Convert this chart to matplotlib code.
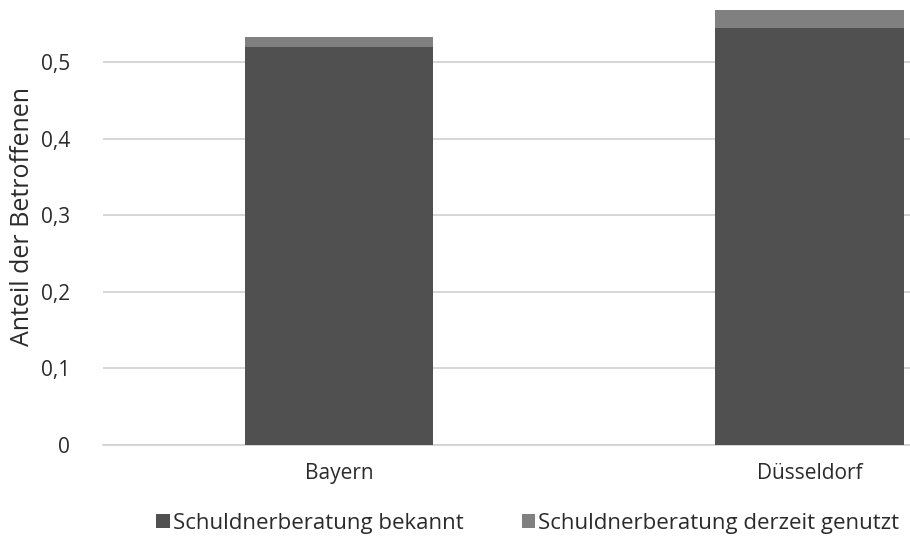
import matplotlib
matplotlib.use("Agg")
import matplotlib.pyplot as plt
import numpy as np

regions = ["Bayern", "Düsseldorf"]
bekannt = [0.520, 0.544]
genutzt = [0.013, 0.024]
series_names = ["Schuldnerberatung bekannt", "Schuldnerberatung derzeit genutzt"]
yticks = [0.0, 0.1, 0.2, 0.3, 0.4, 0.5]
ytick_labels = ["0", "0,1", "0,2", "0,3", "0,4", "0,5"]

plt.rcParams['font.family'] = ['Open Sans', 'DejaVu Sans']
text_color = "#2b2b2b"

fig = plt.figure(figsize=(9.10, 5.45), dpi=100)
# plot area runs past the right and top edges of the figure
ax = fig.add_axes([0.1137, 0.1835, 1.0346, 0.8433])

x = np.arange(len(regions))
dark = "#505050"
light = "#808080"
ax.bar(x, bekannt, width=0.4, color=dark, zorder=3, label=series_names[0])
ax.bar(x, genutzt, width=0.4, bottom=bekannt, color=light, zorder=3, label=series_names[1])

ax.set_xlim(-0.5, 1.5)
ax.set_ylim(0, 0.6)
ax.set_yticks(yticks)
ax.set_yticklabels(ytick_labels, fontsize=15, color=text_color)
ax.set_xticks(x)
ax.set_xticklabels(regions, fontsize=15, color=text_color)
ax.tick_params(axis="both", length=0)
ax.tick_params(axis="y", pad=24)
ax.tick_params(axis="x", pad=13)

ax.grid(axis="y", color="#d0d0d0", linewidth=1.2, zorder=0)
for s in ["top", "right", "left"]:
    ax.spines[s].set_visible(False)
ax.spines["bottom"].set_color("#d0d0d0")
ax.spines["bottom"].set_linewidth(1.2)

ax.set_ylabel("Anteil der Betroffenen", fontsize=18, color=text_color)
ax.yaxis.set_label_coords(-0.073, 0.498)

handles, labels = ax.get_legend_handles_labels()
fig.legend(handles, labels, loc="center", bbox_to_anchor=(0.58, 0.04), ncol=2,
           frameon=False, fontsize=16, handlelength=0.6, handleheight=0.6,
           handletextpad=0.15, columnspacing=2.6, labelcolor=text_color)

fig.savefig("out.png", dpi=100)
